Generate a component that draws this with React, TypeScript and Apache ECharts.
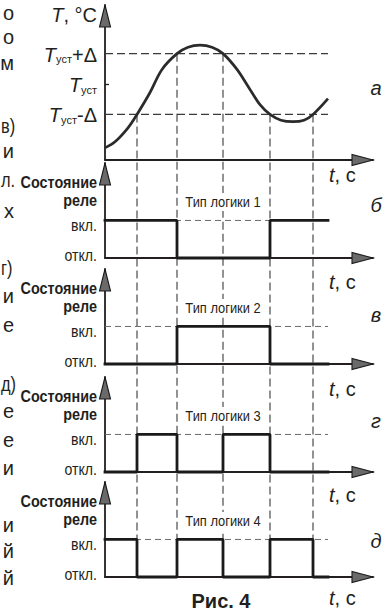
import React, { useEffect, useRef } from "react";
import * as echarts from "echarts";

// ---------- data ----------
const TIME_AXIS_MAX = 26.8;
const TIME_END = 22.3;
const TEMP_AXIS_MAX = 51;
const T_SET = 25;
const DELTA = 10;
const RELAY_AXIS_MAX = 2.53;

const curveTimes = [0, 1.0, 2.3, 3.2, 4.5, 5.7, 7.2, 8.3, 9.5, 10.7, 11.8, 13.2, 14.5, 15.5, 16.5, 17.6, 18.8, 19.9, 20.8, 22.3];
const curveTemps = [4.0, 6.0, 10.6, 15, 22.2, 29.8, 35, 37.1, 37.8, 37.1, 35, 29.8, 23.2, 18.2, 15, 13.1, 12.6, 13.1, 15, 20.2];

const crossTimes = [3.2, 7.2, 11.8, 16.5, 20.8];
const crossTemps = [15, 35, 35, 15, 15];

const relay1Times = [0, 7.2, 16.5, 22.3];
const relay1States = [1, 0, 1, 1];
const relay2Times = [0, 7.2, 16.5, 22.3];
const relay2States = [0, 1, 0, 0];
const relay3Times = [0, 3.2, 7.2, 11.8, 16.5, 22.3];
const relay3States = [0, 1, 0, 1, 0, 0];
const relay4Times = [0, 3.2, 7.2, 11.8, 16.5, 20.8, 22.3];
const relay4States = [1, 0, 1, 0, 1, 0, 0];

const relayTitles = ["Тип логики 1", "Тип логики 2", "Тип логики 3", "Тип логики 4"];
const relayStateLabels = ["откл.", "вкл."];
const tempLevels = [T_SET - DELTA, T_SET, T_SET + DELTA];
const tempLevelSuffix = ["-Δ", "", "+Δ"];
const panelLetters = ["а", "б", "в", "г", "д"];
const leftFragments = ["о", "о", "м", "в)", "и", "л.", "х", "г)", "и", "е", "д)", "е", "е", "и", "и", "й", "й"];

// ---------- layout ----------
const INK = "#231f20";
const FONT = '"Liberation Sans", Arial, Helvetica, sans-serif';
const W = 387;
const H = 613;
const GRID_LEFT = 105;
const GRID_WIDTH = 268;
const PANEL_TOPS = [5, 163, 269, 377, 482];
const PANEL_HEIGHTS = [155, 95, 95, 95, 95];
const LEFT_FRAGMENT_Y = [15, 39, 65, 128, 153, 182, 213, 270, 298, 327, 386, 413, 442, 470, 527, 553, 580];
const TIME_LABEL_Y = [177, 284, 391, 497, 600];
const LETTER_Y = [90, 207, 317, 423, 543];
const LABEL_RIGHT = 97;

const relayTimes = [relay1Times, relay2Times, relay3Times, relay4Times];
const relayStates = [relay1States, relay2States, relay3States, relay4States];

function buildOption(): any {
  const grid = PANEL_TOPS.map((top, i) => ({
    left: GRID_LEFT,
    top,
    width: GRID_WIDTH,
    height: PANEL_HEIGHTS[i],
  }));
  const xAxis = PANEL_TOPS.map((_, i) => ({
    gridIndex: i,
    type: "value",
    min: 0,
    max: TIME_AXIS_MAX,
    axisLine: { show: true, onZero: false, lineStyle: { color: INK, width: 1.8 } },
    axisTick: { show: false },
    axisLabel: { show: false },
    splitLine: { show: false },
  }));
  const yAxis: any[] = [
    {
      gridIndex: 0,
      type: "value",
      min: 0,
      max: TEMP_AXIS_MAX,
      axisLine: { show: true, lineStyle: { color: INK, width: 1.8 } },
      axisTick: {
        show: true,
        inside: true,
        length: 4,
        customValues: [T_SET],
        lineStyle: { color: INK, width: 1.3 },
      },
      axisLabel: {
        show: true,
        customValues: tempLevels,
        margin: GRID_LEFT - LABEL_RIGHT,
        color: INK,
        formatter: (v: number) => {
          const idx = tempLevels.indexOf(v);
          const suf = idx >= 0 ? tempLevelSuffix[idx] : "";
          return "{i|T}{s|уст}" + (suf ? "{n|" + suf + "}" : "");
        },
        rich: {
          i: { fontFamily: FONT, fontStyle: "italic", fontSize: 20, lineHeight: 22, color: INK, verticalAlign: "bottom" },
          s: { fontFamily: FONT, fontSize: 11, lineHeight: 12, color: INK, verticalAlign: "bottom" },
          n: { fontFamily: FONT, fontSize: 20, lineHeight: 22, color: INK, verticalAlign: "bottom" },
        },
      },
      splitLine: { show: false },
    },
  ];
  for (let i = 1; i < 5; i++) {
    yAxis.push({
      gridIndex: i,
      type: "value",
      min: 0,
      max: RELAY_AXIS_MAX,
      axisLine: { show: true, lineStyle: { color: INK, width: 1.8 } },
      axisTick: { show: false },
      axisLabel: { show: false },
      splitLine: { show: false },
    });
  }

  const series: any[] = [];
  [T_SET + DELTA, T_SET - DELTA].forEach((lvl) => {
    series.push({
      type: "line",
      xAxisIndex: 0,
      yAxisIndex: 0,
      data: [[0, lvl], [TIME_END, lvl]],
      symbol: "none",
      silent: true,
      clip: false,
      z: 1,
      lineStyle: { color: "#3a3a3a", width: 1.1, type: [8, 4] },
    });
  });
  series.push({
    type: "line",
    xAxisIndex: 0,
    yAxisIndex: 0,
    data: curveTimes.map((t, i) => [t, curveTemps[i]]),
    smooth: 0.35,
    symbol: "none",
    silent: true,
    clip: false,
    z: 3,
    lineStyle: { color: "#2b2b2b", width: 2.7 },
  });
  for (let k = 0; k < 4; k++) {
    series.push({
      type: "line",
      xAxisIndex: k + 1,
      yAxisIndex: k + 1,
      data: [[0, 1], [TIME_END, 1]],
      symbol: "none",
      silent: true,
      clip: false,
      z: 1,
      lineStyle: { color: "#6a6a6a", width: 1, type: [6, 4] },
    });
    series.push({
      type: "line",
      xAxisIndex: k + 1,
      yAxisIndex: k + 1,
      data: relayTimes[k].map((t, i) => [t, relayStates[k][i]]),
      step: "end",
      symbol: "none",
      silent: true,
      clip: false,
      z: 3,
      lineStyle: { color: "#1a1a1a", width: 2.8, cap: "square" },
    });
  }

  return {
    animation: false,
    backgroundColor: "#ffffff",
    grid,
    xAxis,
    yAxis,
    series,
  };
}

function txt(text: string, x: number, y: number, style: any, extra: any = {}) {
  return {
    type: "text",
    x,
    y,
    z: 20,
    silent: true,
    style: {
      text,
      fill: INK,
      fontFamily: FONT,
      fontSize: 20,
      align: "left",
      verticalAlign: "middle",
      ...style,
    },
    ...extra,
  };
}

export default function App() {
  const ref = useRef<HTMLDivElement>(null);
  useEffect(() => {
    if (!ref.current) return;
    const chart = echarts.init(ref.current, null, { renderer: "svg" });
    chart.setOption(buildOption());

    const g: any[] = [];
    crossTimes.forEach((t, i) => {
      const p1 = chart.convertToPixel({ gridIndex: 0 }, [t, crossTemps[i]]) as number[];
      const p2 = chart.convertToPixel({ gridIndex: 4 }, [t, 0]) as number[];
      g.push({
        type: "line",
        z: 1,
        silent: true,
        shape: { x1: p1[0], y1: p1[1], x2: p2[0], y2: p2[1] },
        style: { stroke: "#3a3a3a", lineWidth: 1.1, lineDash: [8, 4] },
      });
    });

    PANEL_TOPS.forEach((top, i) => {
      const bottom = top + PANEL_HEIGHTS[i];
      g.push({
        type: "polygon",
        z: 15,
        silent: true,
        shape: { points: [[GRID_LEFT, top], [GRID_LEFT - 5.5, top + 22], [GRID_LEFT + 5.5, top + 22]] },
        style: { fill: "#6a6a6a", stroke: "#1a1a1a", lineWidth: 1.1 },
      });
      const tipX = GRID_LEFT + GRID_WIDTH;
      g.push({
        type: "polygon",
        z: 15,
        silent: true,
        shape: { points: [[tipX, bottom], [tipX - 21, bottom - 5.5], [tipX - 21, bottom + 5.5]] },
        style: { fill: "#6a6a6a", stroke: "#1a1a1a", lineWidth: 1.1 },
      });
      g.push(
        txt("{i|t}{n|, с}", 329, TIME_LABEL_Y[i] - 2, {
          rich: {
            i: { fontFamily: FONT, fontStyle: "italic", fontSize: 20, fill: INK },
            n: { fontFamily: FONT, fontSize: 20, fill: INK },
          },
        })
      );
      g.push(txt(panelLetters[i], 376, LETTER_Y[i] - 2, { fontStyle: "italic", align: "center" }));
    });

    g.push(
      txt("{i|T}{n|, °C}", LABEL_RIGHT, 15, {
        align: "right",
        rich: {
          i: { fontFamily: FONT, fontStyle: "italic", fontSize: 20, fill: INK },
          n: { fontFamily: FONT, fontSize: 20, fill: INK },
        },
      })
    );

    for (let k = 0; k < 4; k++) {
      const top = PANEL_TOPS[k + 1];
      g.push(txt("Состояние", LABEL_RIGHT, top + 19, { align: "right", fontSize: 16, fontWeight: "bold" }, { scaleX: 0.9 }));
      g.push(txt("реле", LABEL_RIGHT, top + 37, { align: "right", fontSize: 16, fontWeight: "bold" }, { scaleX: 0.9 }));
      g.push(
        txt(relayTitles[k], 223, top + 39, {
          align: "center",
          fontSize: 14,
          backgroundColor: "#ffffff",
          padding: [2, 3],
        }, { scaleX: 0.92, z: 25 })
      );
      const on = chart.convertToPixel({ gridIndex: k + 1 }, [0, 1]) as number[];
      const off = chart.convertToPixel({ gridIndex: k + 1 }, [0, 0]) as number[];
      g.push(txt(relayStateLabels[1], LABEL_RIGHT, on[1] + 5, { align: "right", fontSize: 16 }, { scaleX: 0.88 }));
      g.push(txt(relayStateLabels[0], LABEL_RIGHT, off[1] - 3, { align: "right", fontSize: 16 }, { scaleX: 0.88 }));
    }

    // fragments of the neighbouring page column (kept fully inside the picture)
    leftFragments.forEach((f, i) => {
      if (f.length > 1) {
        g.push(txt(f, 1, LEFT_FRAGMENT_Y[i] - 2, { align: "left" }, { scaleX: 0.82 }));
      } else {
        g.push(txt(f, 14, LEFT_FRAGMENT_Y[i] - 2, { align: "right" }));
      }
    });

    g.push(txt("Рис. 4", 221, 601, { align: "center", fontSize: 20, fontWeight: "bold" }));

    chart.setOption({ graphic: g });
    return () => chart.dispose();
  }, []);

  return (
    <div
      ref={ref}
      style={{ position: "fixed", left: 0, top: 0, width: W, height: H, background: "#fff" }}
    />
  );
}
